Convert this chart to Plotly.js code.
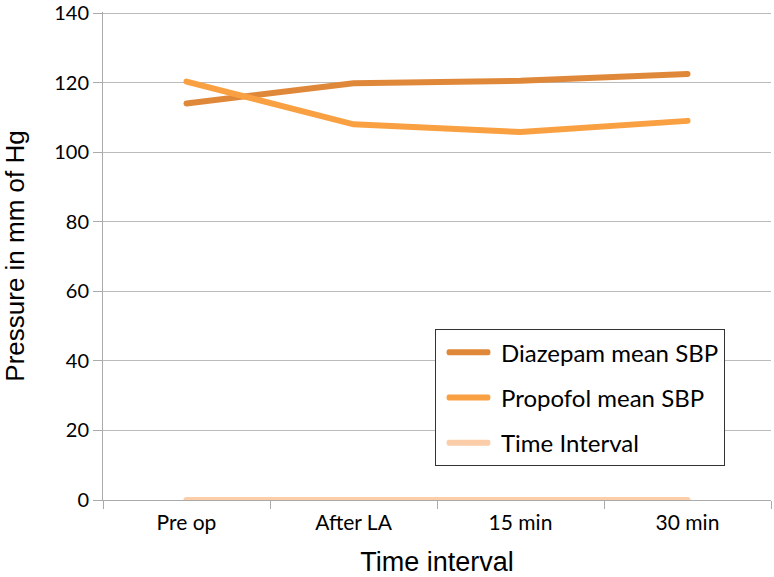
<!DOCTYPE html>
<html>
<head>
<meta charset="utf-8">
<script src="https://cdn.plot.ly/plotly-3.0.1.min.js"></script>
<style>
html,body{margin:0;padding:0;background:#fff;}
#chart{width:774px;height:577px;}
.scatterlayer path.js-line, .legendlines path{stroke-linecap:round;}
.legendlines path{transform-box:fill-box;transform-origin:center;transform:scaleX(0.72);}
</style>
</head>
<body>
<div id="chart"></div>
<script>
var categories = ["Pre op", "After LA", "15 min", "30 min"];
var diazepamSBP = [114, 119.8, 120.5, 122.5];
var propofolSBP = [120.3, 108, 105.8, 109];
var timeInterval = [0, 0, 0, 0];
var yTicks = [0, 20, 40, 60, 80, 100, 120, 140];

var traces = [
  {x: categories, y: diazepamSBP, name: "Diazepam mean SBP", type: "scatter", mode: "lines",
   legendgroup: "a", line: {color: "#E0883A", width: 6}},
  {x: categories, y: propofolSBP, name: "Propofol mean SBP", type: "scatter", mode: "lines",
   legendgroup: "b", line: {color: "#F9A043", width: 6}},
  {x: categories, y: timeInterval, name: "Time Interval", type: "scatter", mode: "lines",
   legendgroup: "c", line: {color: "#FBCDA8", width: 6}}
];

var layout = {
  width: 774, height: 577,
  margin: {l: 103, r: 3, t: 12, b: 77},
  paper_bgcolor: "#fff", plot_bgcolor: "#fff",
  showlegend: true,
  legend: {
    x: 0.497, y: 0.35, xanchor: "left", yanchor: "top",
    bordercolor: "#333", borderwidth: 1, bgcolor: "#fff",
    font: {family: "Lato, 'Open Sans', sans-serif", size: 24, color: "#000"},
    tracegroupgap: 11, itemwidth: 55
  },
  xaxis: {
    type: "category", range: [-0.5, 3.5],
    tickson: "boundaries", ticks: "outside", ticklen: 8, tickcolor: "#aaa",
    ticklabelstandoff: 4,
    showline: true, linecolor: "#aaa", linewidth: 1,
    showgrid: false, zeroline: false,
    tickfont: {family: "Lato, sans-serif", size: 21, color: "#000"},
    title: {text: "Time interval", font: {family: "Liberation Sans, Arial, sans-serif", size: 27, color: "#000"}, standoff: 18}
  },
  yaxis: {
    range: [0, 140.3], tickvals: yTicks, ticktext: yTicks.map(String),
    ticks: "outside", ticklen: 9, tickcolor: "#aaa",
    showline: true, linecolor: "#aaa", linewidth: 1,
    showgrid: true, gridcolor: "#bbb", gridwidth: 1, zeroline: false,
    tickfont: {family: "Lato, sans-serif", size: 20, color: "#000"},
    title: {text: "Pressure in mm of Hg", font: {family: "Liberation Sans, Arial, sans-serif", size: 26, color: "#000"}, standoff: 22}
  }
};

Plotly.newPlot("chart", traces, layout, {displayModeBar: false, staticPlot: true});
</script>
</body>
</html>
